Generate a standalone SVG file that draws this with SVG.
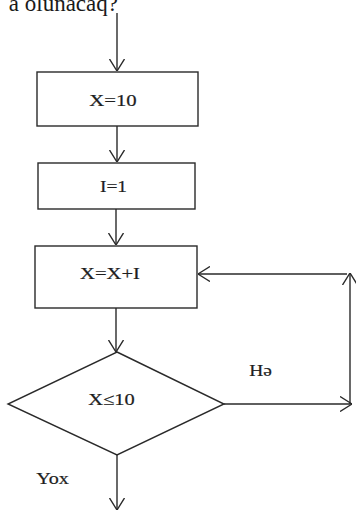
<svg xmlns="http://www.w3.org/2000/svg" width="356" height="512" viewBox="0 0 356 512">
<style>
.shape{fill:none;stroke:#2a2a2a;stroke-width:1.4}
.conn{fill:none;stroke:#2a2a2a;stroke-width:1.4}
.lbl{font-family:"Liberation Serif","Times New Roman",serif;font-size:16.5px;fill:#1e1e1e;stroke:#1e1e1e;stroke-width:0.2;text-anchor:middle}
.head{font-family:"Liberation Serif","Times New Roman",serif;font-size:23px;fill:#1a1a1a}
</style>
<defs>
<marker id="arr" viewBox="0 0 12 16" refX="12" refY="8" markerWidth="12" markerHeight="16" markerUnits="userSpaceOnUse" orient="auto">
<path d="M0,0.5 L12,8 L0,15.5" fill="none" stroke="#2a2a2a" stroke-width="1.4"/>
</marker>
</defs>
<rect width="356" height="512" fill="#ffffff"/>
<text class="head" x="118" y="11" text-anchor="end">a olunacaq?</text>
<g id="connectors">
<line class="conn" x1="117" y1="13" x2="117" y2="71" marker-end="url(#arr)"/>
<line class="conn" x1="117" y1="126" x2="117" y2="162" marker-end="url(#arr)"/>
<line class="conn" x1="116" y1="209" x2="116" y2="245" marker-end="url(#arr)"/>
<line class="conn" x1="116" y1="308" x2="116" y2="352" marker-end="url(#arr)"/>
<line class="conn" x1="224" y1="404" x2="352" y2="404" marker-end="url(#arr)"/>
<line class="conn" x1="350" y1="404" x2="350" y2="273" marker-end="url(#arr)"/>
<line class="conn" x1="347" y1="274" x2="198" y2="274" marker-end="url(#arr)"/>
<line class="conn" x1="117" y1="455" x2="117" y2="510" marker-end="url(#arr)"/>
<text class="lbl" transform="translate(260.5,376) scale(1.18,1)">Hə</text>
<text class="lbl" transform="translate(52.5,484) scale(1.22,1)">Yox</text>
</g>
<g id="node-x10">
<rect class="shape" x="37" y="72" width="161" height="54"/>
<text class="lbl" transform="translate(113,106) scale(1.26,1)">X=10</text>
</g>
<g id="node-i1">
<rect class="shape" x="38" y="163" width="157" height="46"/>
<text class="lbl" transform="translate(113.5,192) scale(1.18,1)">I=1</text>
</g>
<g id="node-xxi">
<rect class="shape" x="35" y="246" width="162" height="62"/>
<text class="lbl" transform="translate(110,279) scale(1.25,1)">X=X+I</text>
</g>
<g id="node-cond">
<polygon class="shape" points="117,352 224,404 117,455 8,404"/>
<text class="lbl" transform="translate(111.5,405) scale(1.24,1)">X≤10</text>
</g>
</svg>
